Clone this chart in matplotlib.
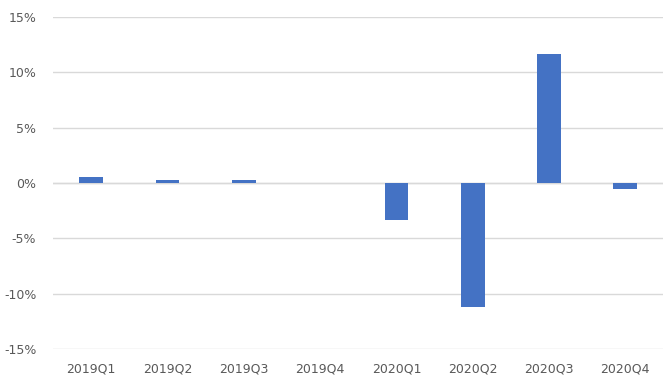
import numpy as np
import matplotlib.pyplot as plt

quarters = ['2019Q1', '2019Q2', '2019Q3', '2019Q4', '2020Q1', '2020Q2', '2020Q3', '2020Q4']
growth = [0.55, 0.3, 0.3, 0.0, -3.35, -11.2, 11.65, -0.55]
yticks = [-15, -10, -5, 0, 5, 10, 15]

fig = plt.figure(figsize=(6.65, 3.76), dpi=100)
ax = fig.add_axes([0.0797, 0.0718, 0.918, 0.883])

x = np.arange(len(quarters))
ax.bar(x, growth, width=0.31, color='#4472C4', zorder=3)

ax.set_xlim(-0.5, len(quarters) - 0.5)
ax.set_ylim(-15, 15)
ax.set_yticks(yticks)
ax.set_yticklabels(['%d%%' % t for t in yticks])
ax.set_xticks(x)
ax.set_xticklabels(quarters)

ax.grid(axis='y', color='#d9d9d9', linewidth=1, zorder=0)
ax.axhline(0, color='#d9d9d9', linewidth=1, zorder=1)
for s in ax.spines.values():
    s.set_visible(False)
ax.tick_params(length=0, labelsize=9, colors='#595959')
ax.tick_params(axis='x', pad=10)
ax.tick_params(axis='y', pad=12)

fig.savefig('out.png', dpi=100)
